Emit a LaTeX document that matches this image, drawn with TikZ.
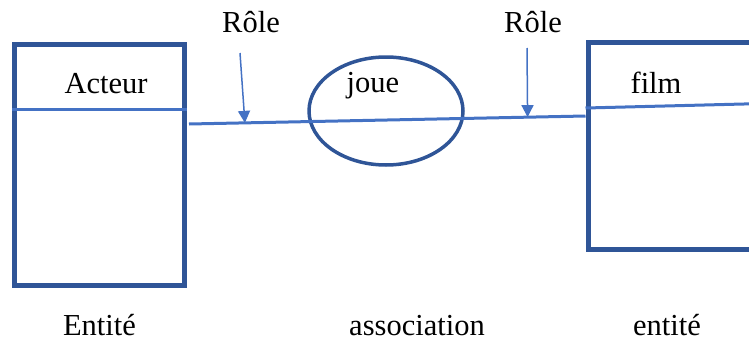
\documentclass[tikz,border=0pt]{standalone}
\usepackage{fontspec}
\setmainfont{Liberation Serif}
\usetikzlibrary{arrows.meta, calc, shapes, positioning}
\definecolor{boxblue}{HTML}{2F5597}
\definecolor{lineblue}{HTML}{4472C4}

\begin{document}
\begin{tikzpicture}[x=1pt, y=-1pt,
	entity/.style={draw=boxblue, line width=5pt, rectangle, inner sep=0pt},
	assoc/.style={draw=boxblue, line width=3.5pt, ellipse, inner sep=0pt, minimum width=154pt, minimum height=108pt},
	link/.style={draw=lineblue, line width=3pt},
	rolearrow/.style={draw=lineblue, line width=1.5pt, -{Triangle[width=12pt,length=12pt]}},
	lbl/.style={font=\rmfamily\fontsize{30.5}{36}\selectfont, inner sep=0pt, anchor=base}]
			\useasboundingbox (0,0) rectangle (749,343);
			\clip (0,0) rectangle (749,343);
			
			% Draw Entities
			\node[entity, minimum width=170pt, minimum height=241pt] (acteur) at (99.5,164.5) {};
			\draw[link] (acteur.west |- 0,109) -- (acteur.east |- 0,109);
			\node[lbl] (acteurLbl) at (106,93) {Acteur};
			
			\node[entity, minimum width=312pt, minimum height=207pt] (film) at (744,145.5) {};
			\draw[link] (film.west |- 0,108) -- (film.east |- 0,100);
			\node[lbl] (filmLbl) at (656,93) {film};
			
			% Draw Association
			\node[assoc] (joue) at (386,111) {};
			\node[lbl] (joueLbl) at (373,92) {joue};
			
			% Draw Link
			\coordinate (endA) at (189,124);
			\coordinate (endB) at (film.west |- 0,116);
			\draw[link] (endA) -- (endB) coordinate[pos=0.141] (hitA) coordinate[pos=0.854] (hitB);
			
			% Draw Roles
			\node[lbl] (roleA) at (251,32) {Rôle};
			\node[lbl] (roleB) at (533,32) {Rôle};
			\coordinate (tailA) at (240,53);
			\coordinate (tailB) at (527,48);
			\draw[rolearrow] (tailA) -- (hitA);
			\draw[rolearrow] (tailB) -- (hitB);
			
			% Captions
			\node[lbl] (entA) at (99.5,335) {Entité};
			\node[lbl] (assocLbl) at (417,335) {association};
			\node[lbl] (entB) at (667,335) {entité};
		\end{tikzpicture}
\end{document}
